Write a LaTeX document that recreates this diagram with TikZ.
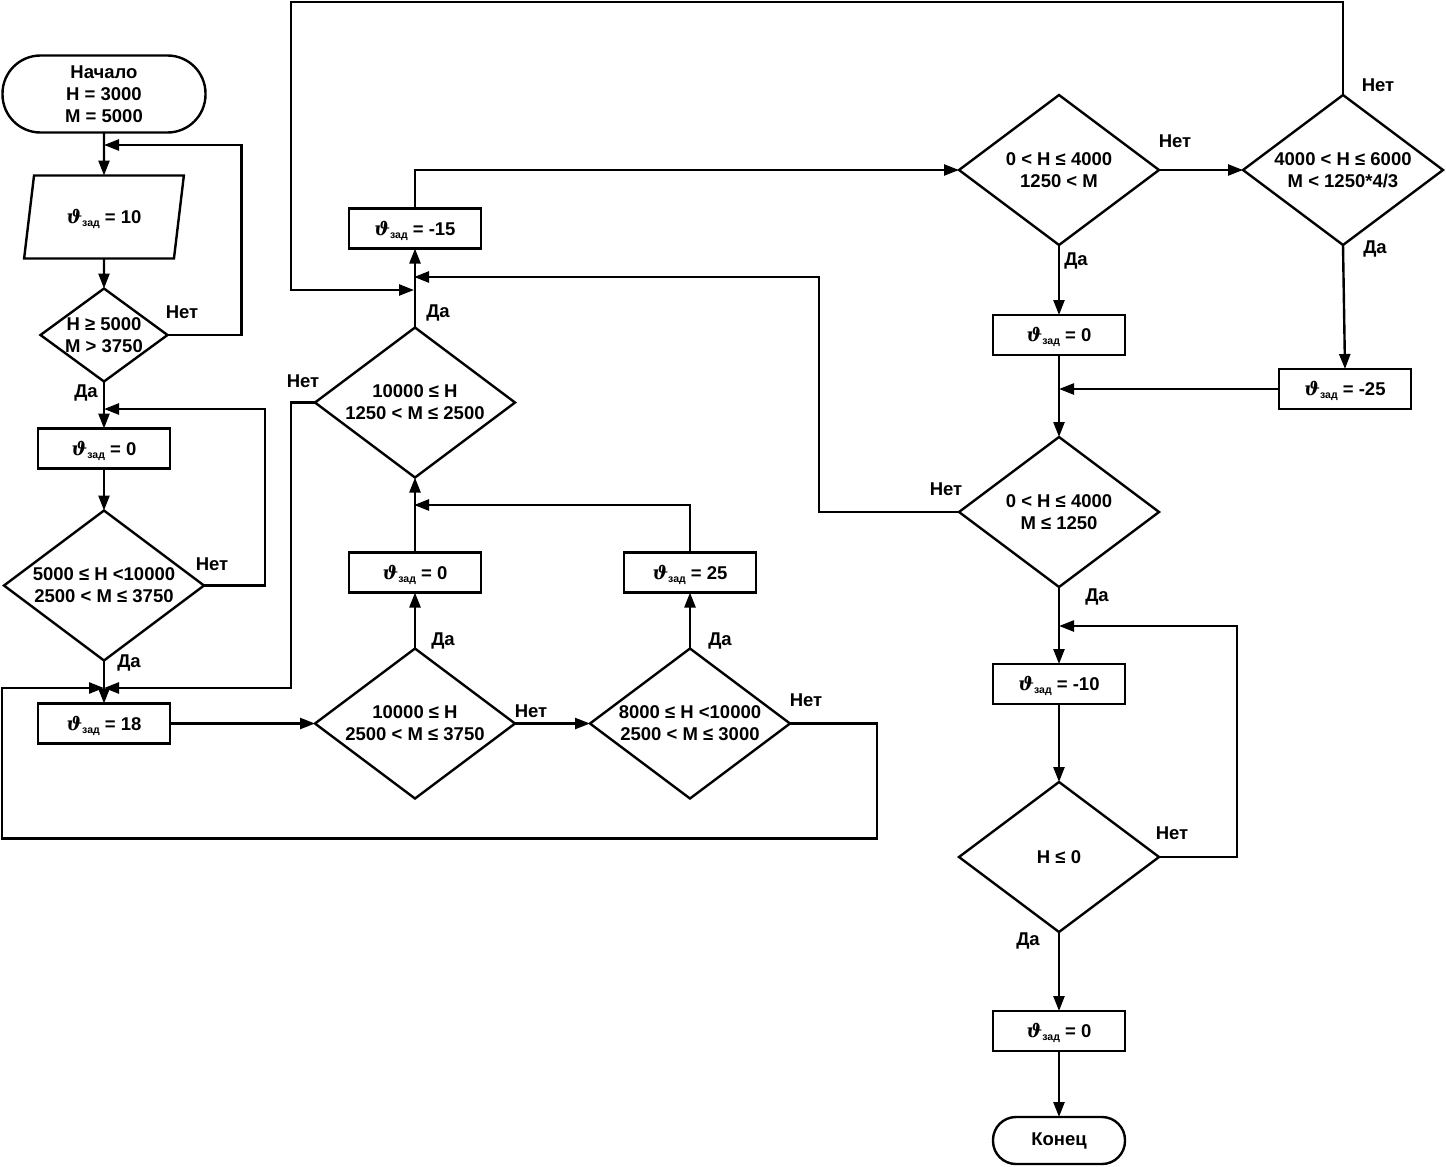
\documentclass[tikz,border=0pt]{standalone}
\usepackage{amsmath,amssymb}
\usepackage{fontspec}
\setmainfont{Liberation Sans}
\newfontfamily\thfont{DejaVu Serif}
\usetikzlibrary{arrows.meta,positioning,shapes.geometric}

\newcommand{\thz}{{\thfont\bfseries\itshape ϑ}\raisebox{-3pt}[0pt][0pt]{\fontsize{10.5}{10.5}\selectfont зад}}

\begin{document}
\begin{tikzpicture}[
  x=1pt, y=-1pt,
  font=\fontsize{18.5}{22}\selectfont\bfseries,
  line width=2.4pt,
  every node/.style={outer sep=0pt},
  termbox/.style={
    draw, rectangle, align=center, inner sep=0pt
  },
  procbox/.style={
    draw, rectangle, align=center, inner sep=0pt,
    minimum width=132pt, minimum height=40pt
  },
  iobox/.style={
    draw, trapezium, trapezium left angle=70, trapezium right angle=110,
    trapezium stretches=true, inner sep=0pt,
    minimum width=161pt, minimum height=83pt
  },
  decbox/.style={
    draw, diamond, align=center, inner sep=0pt, aspect=1.333,
    minimum width=200pt, minimum height=150pt
  },
  lbl/.style={inner sep=0pt},
  arr/.style={-{Triangle[length=15pt,width=11pt]}}
]
\useasboundingbox (0,0) rectangle (1446,1167);

% left column
\node[termbox, minimum width=203pt, minimum height=77pt, rounded corners=38pt] (start) at (104,94) {Начало\\H = 3000\\M = 5000};
\node[iobox, below=43pt of start] (in) {\thz{} = 10};
\node[decbox, minimum width=127pt, minimum height=93pt, aspect=1.37, below=30pt of in] (d1) {H ≥ 5000\\M > 3750};
\node[procbox, below=47pt of d1] (b0a) {\thz{} = 0};
\node[decbox, below=42pt of b0a] (d2) {5000 ≤ H <10000\\2500 < M ≤ 3750};
\node[procbox, below=43pt of d2] (b18) {\thz{} = 18};

% middle part
\node[decbox, right=145pt of b18] (d3) {10000 ≤ H\\2500 < M ≤ 3750};
\node[decbox, right=75pt of d3] (d4) {8000 ≤ H <10000\\2500 < M ≤ 3000};
\node[procbox, above=56pt of d3] (b0b) {\thz{} = 0};
\node[procbox, above=56pt of d4] (b25) {\thz{} = 25};
\node[decbox, above=75pt of b0b] (d5) {10000 ≤ H\\1250 < M ≤ 2500};
\node[procbox, above=79pt of d5] (bm15) {\thz{} = -15};

% right column
\node[decbox] (d6) at (1059,170) {0 < H ≤ 4000\\1250 < M};
\node[decbox, right=84pt of d6] (d8) {4000 < H ≤ 6000\\M < 1250*4/3};
\node[procbox, below=70pt of d6] (b0c) {\thz{} = 0};
\node[procbox] (bm25) at (1345,389) {\thz{} = -25};
\node[decbox, below=82pt of b0c] (d7) {0 < H ≤ 4000\\M ≤ 1250};
\node[procbox, below=77pt of d7] (bm10) {\thz{} = -10};
\node[decbox, below=78pt of bm10] (d9) {H ≤ 0};
\node[procbox, below=79pt of d9] (b0e) {\thz{} = 0};
\node[termbox, minimum width=132pt, minimum height=47pt, rounded corners=23pt, below=66pt of b0e] (stop) {Конец};

% junctions
\coordinate (j1) at (104,145);
\coordinate (j2) at (104,409);
\coordinate (j4) at (104,688);
\coordinate (j3) at (414,505);
\coordinate (j6) at (414,290);
\coordinate (j7) at (414,277);
\coordinate (j9) at (1059,626);

% labels
\node[lbl] (n1) at (182,312) {Нет};
\node[lbl] (y1) at (86,393) {Да};
\node[lbl] (n2) at (212,564) {Нет};
\node[lbl] (y2) at (129,663) {Да};
\node[lbl] (n5) at (303,381) {Нет};
\node[lbl] (y5) at (438,313) {Да};
\node[lbl] (y3) at (443,641) {Да};
\node[lbl] (n3) at (531,711) {Нет};
\node[lbl] (y4) at (720,641) {Да};
\node[lbl] (n4) at (806,700) {Нет};
\node[lbl] (n6) at (1175,141) {Нет};
\node[lbl] (n8) at (1378,85) {Нет};
\node[lbl] (y6) at (1076,261) {Да};
\node[lbl] (y8) at (1375,249) {Да};
\node[lbl] (n7) at (946,489) {Нет};
\node[lbl] (y7) at (1097,597) {Да};
\node[lbl] (n9) at (1172,833) {Нет};
\node[lbl] (y9) at (1028,941) {Да};

% connectors
\draw[arr] (start) -- (in);
\draw[arr] (in) -- (d1);
\draw[arr] (d1.east) -- ++(74,0) |- (j1);
\draw[arr] (d1) -- (b0a);
\draw[arr] (b0a) -- (d2);
\draw[arr] (d2.east) -- ++(61,0) |- (j2);
\draw[arr] (d2) -- (b18);
\draw[arr] (b18) -- (d3);
\draw[arr] (d3) -- (d4);
\draw[arr] (d4.east) -- ++(87,0) -- ++(0,115) -| ([xshift=-102pt]j4) -- (j4);
\draw[arr] (d5.west) -- ++(-24,0) |- (j4);
\draw[arr] (d3) -- (b0b);
\draw[arr] (d4) -- (b25);
\draw[arr] (b0b) -- (d5);
\draw[arr] (b25.north) |- (j3);
\draw[arr] (d5) -- (bm15);
\draw[arr] (bm15.north) |- (d6.west);
\draw[arr] (d6) -- (d8);
\draw[arr] (d8.north) -- ++(0,-93) -| ([xshift=-123pt]j6) -- (j6);
\draw[arr] (d7.west) -- ++(-140,0) |- (j7);
\draw[arr] (d6) -- (b0c);
\draw[arr] (d8.south) -- (bm25.north);
\draw[arr] (bm25.west) -- (bm25.west -| b0c.south);
\draw[arr] (b0c) -- (d7);
\draw[arr] (d7) -- (bm10);
\draw[arr] (d9.east) -- ++(78,0) |- (j9);
\draw[arr] (bm10) -- (d9);
\draw[arr] (d9) -- (b0e);
\draw[arr] (b0e) -- (stop);
\end{tikzpicture}
\end{document}
